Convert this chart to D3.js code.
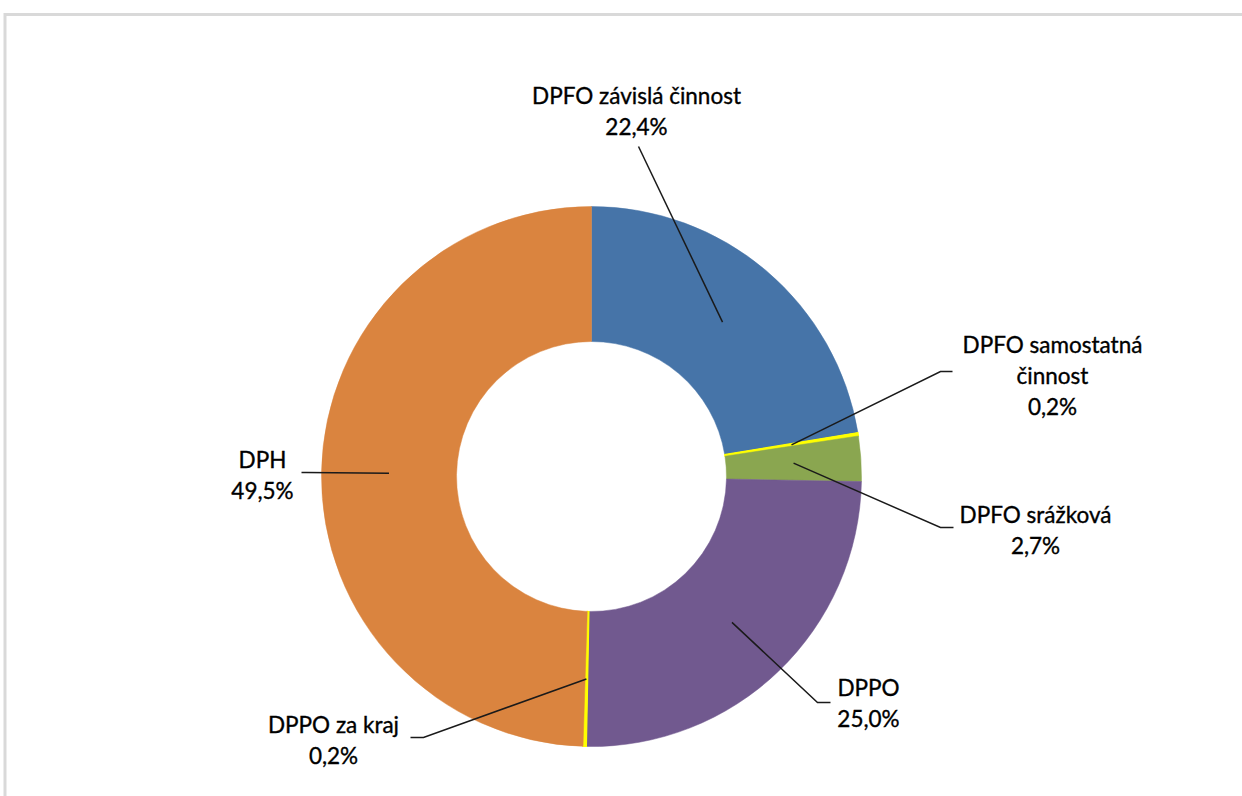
<!doctype html>
<html lang="cs">
<head>
  <meta charset="utf-8">
  <title>Struktura daňových příjmů</title>
  <style type="text/css">
    body{ margin:0; background:#fff; }
    text{
      font-family: Lato, "Open Sans", sans-serif;
      font-size:22.5px;
      fill:#000;
      stroke:#000;
      stroke-width:0.35px;
    }
    .leader{
      fill:none;
      stroke:#1a1a1a;
      stroke-width:1.5px;
    }
  </style>
</head>
<body>
  <div id="vis"></div>
  <script src="https://cdn.jsdelivr.net/npm/d3@7/dist/d3.min.js"></script>
  <script type="text/javascript">

    // data, clockwise from 12 o'clock
    var categories = ['DPFO závislá činnost','DPFO samostatná činnost','DPFO srážková','DPPO','DPPO za kraj','DPH'];
    var values = [22.4, 0.2, 2.7, 25.0, 0.2, 49.5];
    var valueLabels = ['22,4%','0,2%','2,7%','25,0%','0,2%','49,5%'];
    var colors = ['#4674a8','#ffff00','#8aa650','#71598f','#ffff00','#da843f'];

    // label text split in lines (as in the picture)
    var labelLines = [
      ['DPFO závislá činnost'],
      ['DPFO samostatná','činnost'],
      ['DPFO srážková'],
      ['DPPO'],
      ['DPPO za kraj'],
      ['DPH']
    ];

    // label placement relative to the donut centre: text centre x, first baseline y,
    // leader end point and the short horizontal tick end
    var labelLayout = [
      {tx: 45,  ty:-373, ex: 47,  ey:-330, hx: 47},
      {tx: 461, ty:-124, ex: 349, ey:-105, hx: 361},
      {tx: 444, ty: 46,  ex: 349, ey: 51,  hx: 362},
      {tx: 277, ty: 219, ex: 226, ey: 226, hx: 239},
      {tx:-258, ty: 256, ex:-168, ey: 261, hx:-181},
      {tx:-329, ty:-9,   ex:-285, ey:-4,   hx:-290}
    ];

    var width = 1242, height = 796,
      cx = 591.5, cy = 476.5,
      outerR = 270, innerR = 135,
      lineH = 31;

    var svg = d3.select('#vis').append('svg')
      .attr('width', width)
      .attr('height', height);

    // chart frame
    svg.append('rect')
      .attr('x', 5).attr('y', 14.5)
      .attr('width', width + 20).attr('height', height + 20)
      .style('fill','none')
      .style('stroke','#d9d9d9')
      .style('stroke-width', 3);

    var pie = d3.pie().sort(null).value(function(d){ return d; });
    var arc = d3.arc().innerRadius(innerR).outerRadius(outerR);
    var arcs = pie(values);

    var g = svg.append('g')
      .attr('transform','translate('+cx+','+cy+')');

    g.selectAll('path.slice').data(arcs).enter().append('path')
      .attr('class','slice')
      .attr('d', arc)
      .style('fill', function(d,i){ return colors[i]; })
      .style('stroke', function(d,i){ return colors[i]; })
      .style('stroke-width', function(d,i){ return values[i] < 1 ? 1.2 : 0.5; });

    // leader lines
    g.selectAll('path.leader').data(arcs).enter().append('path')
      .attr('class','leader')
      .attr('d', function(d,i){
        var c = arc.centroid(d), l = labelLayout[i];
        return d3.line()([c, [l.ex, l.ey], [l.hx, l.ey]]);
      });

    // labels
    var labels = g.selectAll('text.lbl').data(arcs).enter().append('text')
      .attr('class','lbl')
      .attr('text-anchor','middle')
      .attr('transform', function(d,i){
        return 'translate('+labelLayout[i].tx+','+labelLayout[i].ty+')';
      });

    labels.each(function(d,i){
      var t = d3.select(this);
      var lines = labelLines[i].concat([valueLabels[i]]);
      lines.forEach(function(s, k){
        t.append('tspan').attr('x', 0).attr('y', k*lineH).text(s);
      });
    });

  </script>
</body>
</html>
